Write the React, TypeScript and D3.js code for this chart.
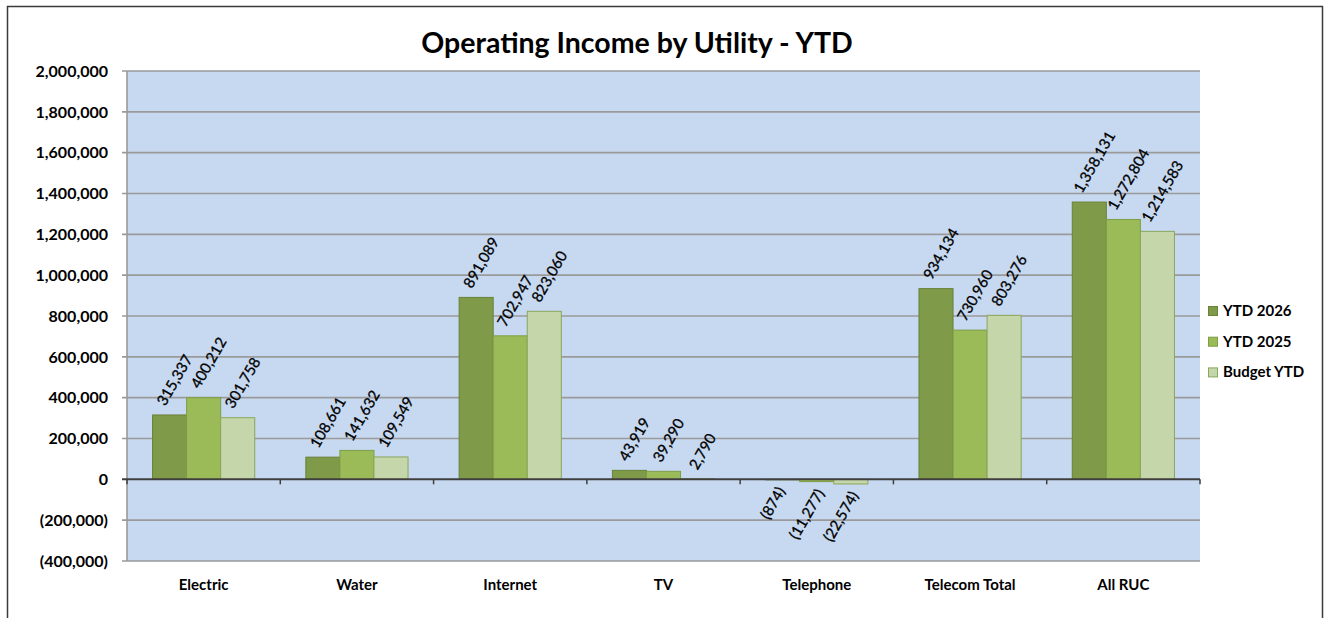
import React, { useEffect, useRef } from "react";
import * as d3 from "d3";

const categories = ["Electric", "Water", "Internet", "TV", "Telephone", "Telecom Total", "All RUC"];
const seriesNames = ["YTD 2026", "YTD 2025", "Budget YTD"];
const ytd2026 = [315337, 108661, 891089, 43919, -874, 934134, 1358131];
const ytd2025 = [400212, 141632, 702947, 39290, -11277, 730960, 1272804];
const budgetYtd = [301758, 109549, 823060, 2790, -22574, 803276, 1214583];
const yTicks = [-400000, -200000, 0, 200000, 400000, 600000, 800000, 1000000, 1200000, 1400000, 1600000, 1800000, 2000000];

const seriesValues = [ytd2026, ytd2025, budgetYtd];
const fills = ["#7F9A48", "#9BBB59", "#C6D6AB"];
const strokes = ["#6A8239", "#7E9D45", "#8AA65A"];

const W = 1327;
const H = 618;
const FONT = "Lato, 'Open Sans', sans-serif";

const fmt = (v: number) => {
  const s = d3.format(",")(Math.abs(v));
  return v < 0 ? `(${s})` : s;
};

export default function App() {
  const ref = useRef<SVGSVGElement>(null);

  useEffect(() => {
    const svg = d3.select(ref.current);
    svg.selectAll("*").remove();

    const left = 127, right = 1200, top = 71, bottom = 561;
    const x = d3.scaleBand<string>().domain(categories).range([left, right]).paddingInner(0).paddingOuter(0);
    const y = d3.scaleLinear().domain([-400000, 2000000]).range([bottom, top]);
    const bw = x.bandwidth() / 4.5;

    // outer frame
    svg.append("rect").attr("x", 0).attr("y", 0).attr("width", W).attr("height", H).attr("fill", "#fff");
    svg.append("rect").attr("x", 7.5).attr("y", 6.5).attr("width", 1315).attr("height", 700)
      .attr("fill", "#fff").attr("stroke", "#3a3a3a").attr("stroke-width", 1.5);

    // plot bg
    svg.append("rect").attr("x", left).attr("y", top).attr("width", right - left).attr("height", bottom - top)
      .attr("fill", "#C6D9F1");

    // gridlines + y ticks
    const g = svg.append("g");
    yTicks.forEach((t) => {
      if (t === 0) return;
      g.append("line").attr("x1", left - 5).attr("x2", right).attr("y1", y(t)).attr("y2", y(t))
        .attr("stroke", "#9A9A9A").attr("stroke-width", 1.6);
    });
    g.append("line").attr("x1", left).attr("x2", left).attr("y1", top).attr("y2", bottom)
      .attr("stroke", "#9A9A9A").attr("stroke-width", 1.6);

    // y labels
    yTicks.forEach((t) => {
      svg.append("text").attr("x", 108).attr("y", y(t)).attr("dy", "0.36em")
        .attr("text-anchor", "end").attr("font-family", FONT).attr("font-weight", "bold")
        .attr("font-size", 16).attr("fill", "#000").text(fmt(t));
    });

    // bars
    seriesValues.forEach((vals, si) => {
      vals.forEach((v, ci) => {
        const x0 = (x(categories[ci]) as number) + (0.75 + si) * bw;
        const y0 = Math.min(y(v), y(0));
        const h = Math.abs(y(v) - y(0));
        svg.append("rect").attr("x", x0).attr("y", y0).attr("width", bw).attr("height", Math.max(h, 0.5))
          .attr("fill", fills[si]).attr("stroke", strokes[si]).attr("stroke-width", 1);
      });
    });

    // zero line & category ticks
    svg.append("line").attr("x1", left - 5).attr("x2", right).attr("y1", y(0)).attr("y2", y(0))
      .attr("stroke", "#3F3F3F").attr("stroke-width", 2);
    for (let i = 0; i <= categories.length; i++) {
      const xv = left + i * x.bandwidth();
      svg.append("line").attr("x1", xv).attr("x2", xv).attr("y1", y(0)).attr("y2", y(0) + 5)
        .attr("stroke", "#3F3F3F").attr("stroke-width", 1.5);
    }

    // category labels
    categories.forEach((c) => {
      svg.append("text").attr("x", (x(c) as number) + x.bandwidth() / 2).attr("y", 590)
        .attr("text-anchor", "middle").attr("font-family", FONT).attr("font-weight", "bold")
        .attr("font-size", 15).attr("fill", "#000").text(c);
    });

    // data labels
    const ang = Math.PI / 3;
    const th = 11;
    seriesValues.forEach((vals, si) => {
      vals.forEach((v, ci) => {
        const bc = (x(categories[ci]) as number) + (0.75 + si + 0.5) * bw;
        const t = svg.append("text").attr("text-anchor", "middle").attr("dy", "0.35em")
          .attr("font-family", FONT).attr("font-size", 15).attr("fill", "#000")
          .attr("stroke", "#000").attr("stroke-width", 0.3).text(fmt(v));
        const w = (t.node() as SVGTextElement).getComputedTextLength();
        const boxH = w * Math.sin(ang) + th * Math.cos(ang);
        let cx, cy;
        if (v >= 0) {
          cx = bc + 5;
          cy = y(v) - 8 - boxH / 2;
        } else {
          cx = bc - 10;
          cy = y(v) + 6 + boxH / 2;
        }
        t.attr("transform", `translate(${cx},${cy}) rotate(-60)`);
      });
    });

    // title
    svg.append("text").attr("x", 637).attr("y", 53).attr("text-anchor", "middle")
      .attr("font-family", FONT).attr("font-weight", "bold").attr("font-size", 28.5).attr("fill", "#000")
      .text("Operating Income by Utility - YTD");

    // legend
    seriesNames.forEach((n, i) => {
      const ly = 316 + i * 30.7;
      svg.append("rect").attr("x", 1208.5).attr("y", ly - 9.5).attr("width", 9).attr("height", 9)
        .attr("fill", fills[i]).attr("stroke", strokes[i]).attr("stroke-width", 1);
      svg.append("text").attr("x", 1223).attr("y", ly).attr("font-family", FONT).attr("font-weight", "bold")
        .attr("font-size", 15).attr("fill", "#000").text(n);
    });
  }, []);

  return (
    <svg ref={ref} width={W} height={H} style={{ position: "absolute", left: 0, top: 0, display: "block" }} />
  );
}
